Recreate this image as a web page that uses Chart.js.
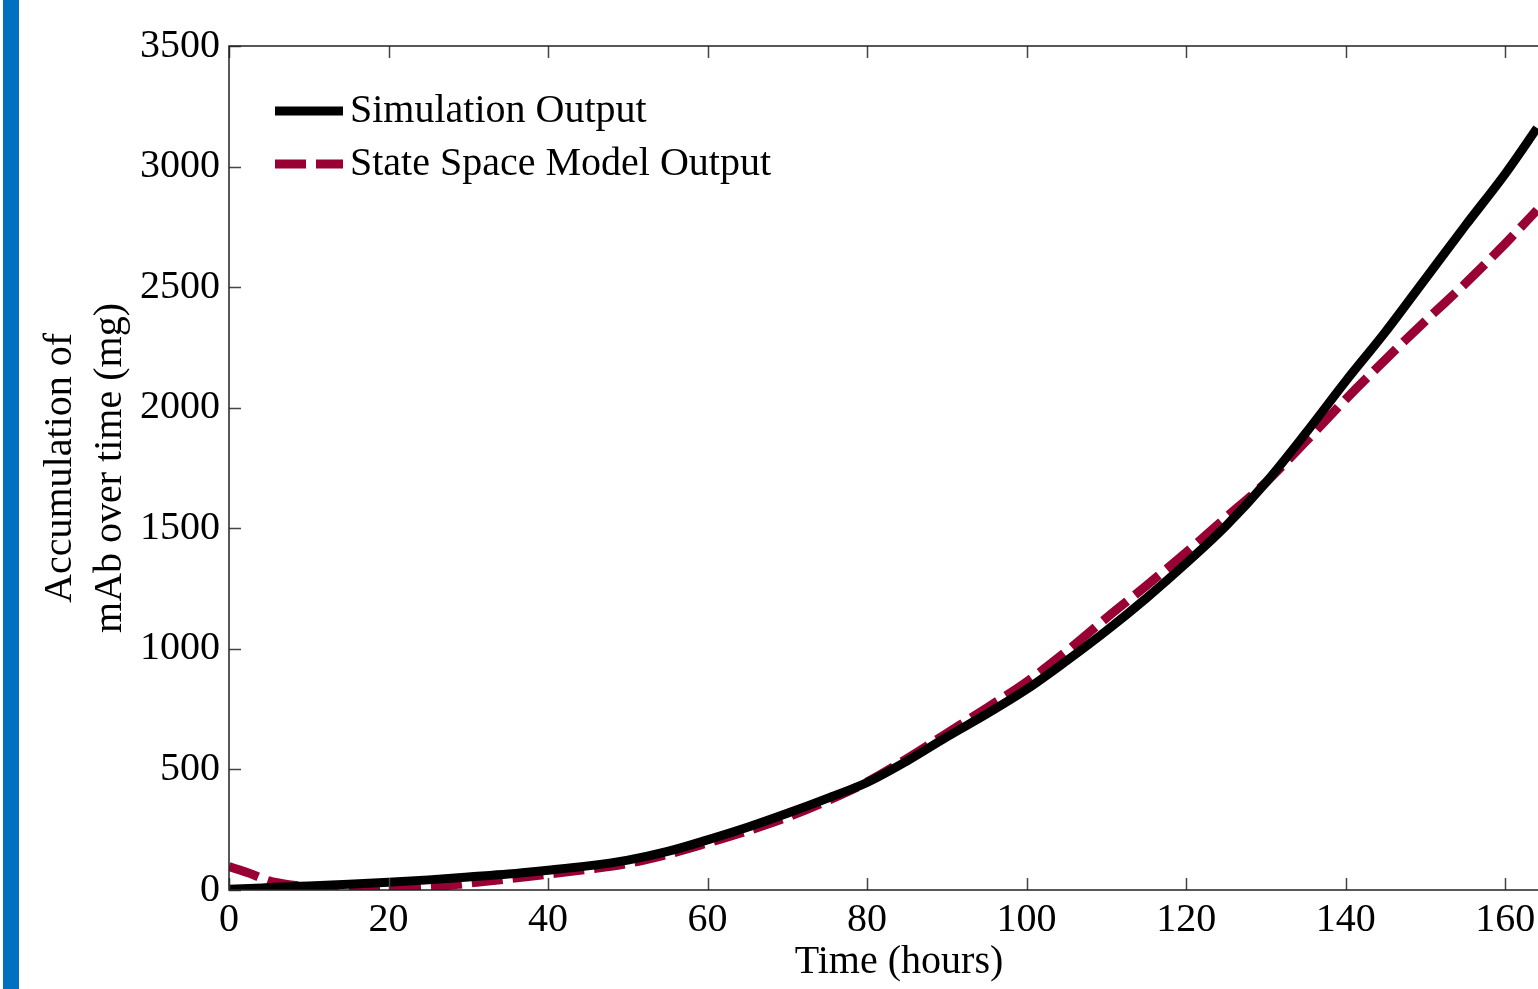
<!DOCTYPE html>
<html>
<head>
<meta charset="utf-8">
<script src="https://cdn.jsdelivr.net/npm/chart.js@4"></script>
<style>
  html, body { margin: 0; padding: 0; background: #fff; overflow: hidden; }
  #bar { position: absolute; left: 3px; top: 0; width: 16px; height: 989px; background: #0070C0; z-index: 2; }
  #wrap { position: absolute; left: 0; top: 0; width: 1600px; height: 989px; }
</style>
</head>
<body>
<div id="bar"></div>
<div id="wrap"><canvas id="c"></canvas></div>
<script>
const hours = [0, 2.5, 5, 7.5, 10, 15, 20, 25, 30, 35, 40, 45, 50, 55, 60, 65, 70, 75, 80, 85, 90, 95, 100, 105, 110, 115, 120, 125, 130, 135, 140, 145, 150, 155, 160, 164];
const simulationOutput = [3, 6, 10, 14, 17, 24, 32, 42, 54, 66, 82, 100, 124, 160, 208, 260, 318, 380, 446, 535, 635, 730, 832, 950, 1075, 1210, 1355, 1510, 1690, 1895, 2110, 2315, 2535, 2755, 2970, 3160];
const stateSpaceOutput = [97, 70, 38, 22, 14, 8, 7, 12, 28, 46, 66, 86, 110, 148, 195, 245, 302, 370, 448, 545, 650, 755, 863, 990, 1128, 1262, 1400, 1545, 1690, 1860, 2035, 2200, 2360, 2515, 2680, 2820];
const xTicks = [0, 20, 40, 60, 80, 100, 120, 140, 160];
const yTicks = [0, 500, 1000, 1500, 2000, 2500, 3000, 3500];
const seriesLabels = ['Simulation Output', 'State Space Model Output'];

const FONT = '"Liberation Serif", "Times New Roman", serif';
const toPts = (ys) => hours.map((h, i) => ({ x: h, y: ys[i] }));

const framePlugin = {
  id: 'frame',
  afterDraw(chart) {
    const { ctx, chartArea: a, scales: { x, y } } = chart;
    ctx.save();
    ctx.strokeStyle = '#444';
    ctx.lineWidth = 1.5;
    const tl = 12;
    ctx.beginPath();
    xTicks.forEach(v => {
      const px = Math.round(x.getPixelForValue(v)) + 0.5;
      ctx.moveTo(px, a.bottom); ctx.lineTo(px, a.bottom - tl);
      ctx.moveTo(px, a.top); ctx.lineTo(px, a.top + tl);
    });
    yTicks.forEach(v => {
      const py = Math.round(y.getPixelForValue(v)) + 0.5;
      ctx.moveTo(a.left, py); ctx.lineTo(a.left + tl, py);
      ctx.moveTo(a.right, py); ctx.lineTo(a.right - tl, py);
    });
    ctx.stroke();
    ctx.strokeStyle = '#222';
    ctx.lineWidth = 1.5;
    ctx.strokeRect(a.left, a.top, a.right - a.left, a.bottom - a.top);
    ctx.font = '40px ' + FONT;
    ctx.textBaseline = 'middle';
    ctx.textAlign = 'left';
    chart.data.datasets.forEach((ds, i) => {
      const yy = a.top + 65 + i * 53;
      const x0 = a.left + 46, x1 = a.left + 114;
      ctx.save();
      ctx.strokeStyle = ds.borderColor;
      ctx.lineWidth = ds.borderWidth;
      ctx.lineCap = 'butt';
      ctx.setLineDash(ds.borderDash || []);
      ctx.beginPath();
      ctx.moveTo(x0, yy); ctx.lineTo(x1, yy);
      ctx.stroke();
      ctx.restore();
      ctx.fillStyle = '#000';
      ctx.fillText(ds.label, a.left + 121, yy);
    });
    ctx.restore();
  }
};

new Chart(document.getElementById('c'), {
  type: 'line',
  data: {
    datasets: [
      {
        label: seriesLabels[0],
        data: toPts(simulationOutput),
        borderColor: '#000000',
        borderWidth: 9,
        pointRadius: 0,
        cubicInterpolationMode: 'monotone',
        fill: false
      },
      {
        label: seriesLabels[1],
        data: toPts(stateSpaceOutput),
        borderColor: '#990033',
        borderWidth: 9,
        borderDash: [31, 10],
        borderCapStyle: 'butt',
        pointRadius: 0,
        cubicInterpolationMode: 'monotone',
        fill: false
      }
    ]
  },
  options: {
    responsive: true,
    maintainAspectRatio: false,
    animation: false,
    events: [],
    layout: { padding: { left: 0, top: 46, right: 31, bottom: 0 } },
    plugins: { legend: { display: false }, tooltip: { enabled: false } },
    scales: {
      x: {
        type: 'linear',
        min: 0,
        max: 168,
        afterFit: (s) => { s.height = 99; },
        afterBuildTicks: (s) => { s.ticks = xTicks.map(v => ({ value: v })); },
        grid: { display: false, drawTicks: false },
        border: { display: false },
        ticks: { font: { family: FONT, size: 40 }, color: '#000', padding: 6, maxRotation: 0, autoSkip: false, callback: (v) => String(v) },
        title: { display: true, text: 'Time (hours)', font: { family: FONT, size: 40, lineHeight: 1.2 }, color: '#000', padding: { top: 0, bottom: 3 } }
      },
      y: {
        type: 'linear',
        min: 0,
        max: 3500,
        afterFit: (s) => { s.width = 229; },
        afterBuildTicks: (s) => { s.ticks = yTicks.map(v => ({ value: v })); },
        grid: { display: false, drawTicks: false },
        border: { display: false },
        ticks: { font: { family: FONT, size: 40 }, color: '#000', padding: 9, autoSkip: false, callback: (v) => String(v) },
        title: { display: true, text: ['Accumulation of', 'mAb over time (mg)'], font: { family: FONT, size: 40, lineHeight: 1.25 }, color: '#000', padding: { top: 35, bottom: 0 } }
      }
    }
  },
  plugins: [framePlugin]
});
</script>
</body>
</html>
